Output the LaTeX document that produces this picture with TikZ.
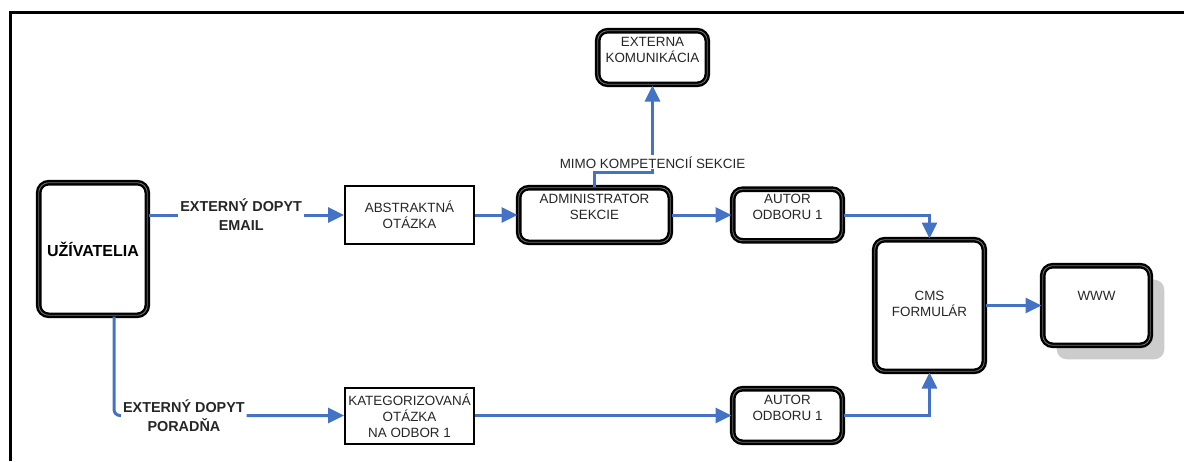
\documentclass[tikz,border=0pt]{standalone}
\usepackage{fontspec}
\setmainfont{Liberation Sans}
\usetikzlibrary{arrows.meta,shadows}

\definecolor{flowblue}{RGB}{68,114,196}
\newcommand{\boxfont}{\fontsize{6.7}{8}\selectfont}
\newcommand{\flowfont}{\fontsize{7.2}{9.5}\selectfont\bfseries}

\tikzset{
	rbox/.style={draw, line width=1.2pt, double=black!55, double distance=0.4pt, rounded corners=5pt, inner sep=0pt, fill=white},
	pbox/.style={draw, line width=1pt, inner sep=0pt, font=\boxfont, align=center, text=black!85},
	intext/.style={font=\boxfont, align=center, text=black!85},
	flow/.style={flowblue, line width=1.5pt, -{Triangle[length=8pt,width=7.5pt]}},
	flowlabel/.style={font=\flowfont, align=center, fill=white, text=black!85, inner sep=1pt},
}

\begin{document}
\begin{tikzpicture}[x=0.5pt, y=-0.5pt]
		\useasboundingbox (0,0) rectangle (1184,461);
		\draw[line width=1.5pt] (10,461) -- (10,12) -- (1184,12);
		
		% boxes
		\node[rbox, minimum width=54.3pt, minimum height=66.3pt, label={[intext, font=\fontsize{8}{9}\selectfont\bfseries, text=black]center:U\v{Z}\'IVATELIA}] (user) at (93,249) {};
		\node[pbox, minimum width=64.5pt, minimum height=29pt] (abs) at (409.5,215) {ABSTRAKTN\'A\\OT\'AZKA};
		\node[rbox, minimum width=75.8pt, minimum height=27.3pt, label={[intext, yshift=4pt]center:ADMINISTRATOR\\SEKCIE}] (admin) at (594.5,215) {};
		\node[rbox, minimum width=54.8pt, minimum height=25.8pt, label={[intext, yshift=4pt]center:AUTOR\\ODBORU 1}] (autor1) at (787.5,215) {};
		\node[rbox, minimum width=54.8pt, minimum height=26.8pt, label={[intext, yshift=4pt]center:EXTERNA\\KOMUNIK\'ACIA}] (extkom) at (652.5,57.5) {};
		\node[rbox, minimum width=54.8pt, minimum height=65.8pt, label={[intext, yshift=1pt]center:CMS\\FORMUL\'AR}] (cms) at (929.5,305.5) {};
		\node[rbox, minimum width=53.8pt, minimum height=39.8pt, drop shadow={opacity=1, fill=black!20, shadow xshift=7pt, shadow yshift=-7pt}, label={[intext, yshift=5pt]center:WWW}] (www) at (1096.5,305.5) {};
		\node[pbox, minimum width=64.5pt, minimum height=28pt] (kat) at (409.5,415.5) {KATEGORIZOVAN\'A\\OT\'AZKA\\NA ODBOR 1};
		\node[rbox, minimum width=54.8pt, minimum height=26.8pt, label={[intext, yshift=4pt]center:AUTOR\\ODBORU 1}] (autor2) at (787.5,415.5) {};
		
		% connectors
		\draw[flow] (user.east |- abs.west) -- node[flowlabel, pos=0.474] {EXTERN\'Y DOPYT\\EMAIL} (abs.west);
		\draw[flow, rounded corners=3pt] ([xshift=10.5pt]user.south) |- node[flowlabel, pos=0.652] {EXTERN\'Y DOPYT\\PORAD\v{N}A} (kat.west);
		\draw[flow] (abs.east) -- (admin.west);
		\draw[flow] (admin.east) -- (autor1.west);
		\draw[flow] (autor1.east) -| (cms.north);
		\draw[flow] (kat.east) -- (autor2.west);
		\draw[flow] (autor2.east) -| (cms.south);
		\draw[flow] (cms.east) -- (www.west);
		\coordinate (bend) at (652.5,172.5);
		\draw[flow] (admin.north) |- (bend) -- (extkom.south);
		\node[intext, fill=white, inner sep=0.5pt, anchor=base] (mimo) at (652.5,168) {MIMO KOMPETENCI\'I SEKCIE};
		
\end{tikzpicture}
\end{document}
